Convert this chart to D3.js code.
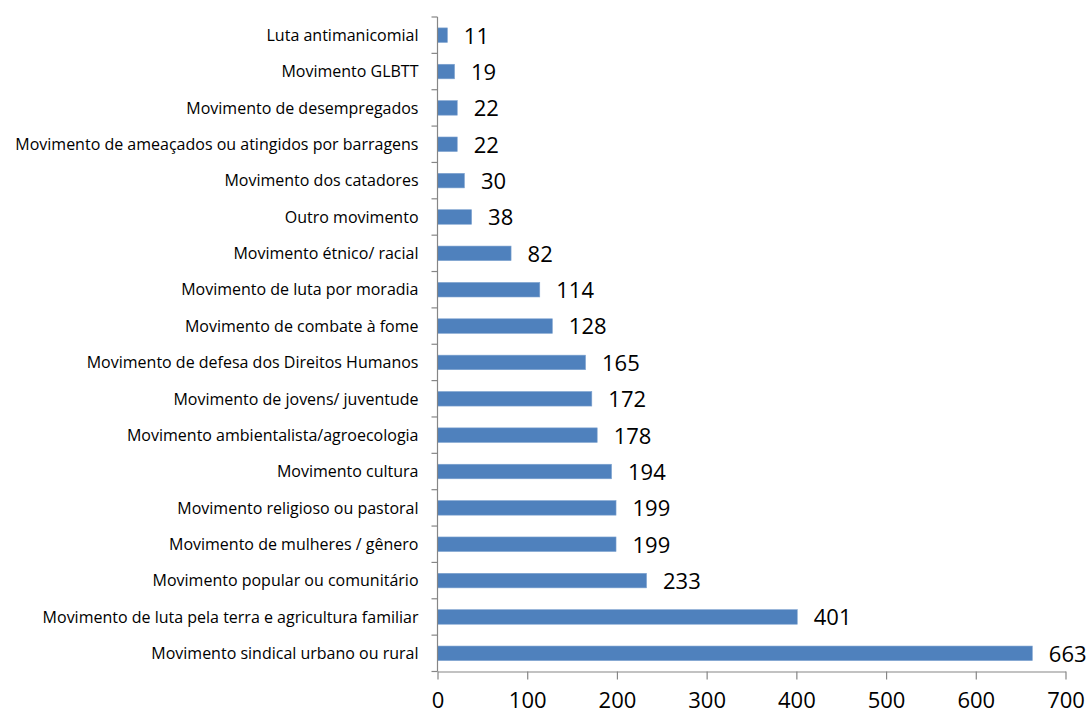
<!DOCTYPE html>
<html>
<head>
<meta charset="utf-8">
<script src="https://cdn.jsdelivr.net/npm/d3@7"></script>
<style>
  body { margin: 0; background: #fff; }
  svg { display: block; }
</style>
</head>
<body>
<svg id="chart" width="1091" height="715"></svg>
<script>
// categories from top to bottom
const categories = [
  'Luta antimanicomial',
  'Movimento GLBTT',
  'Movimento de desempregados',
  'Movimento de ameaçados ou atingidos por barragens',
  'Movimento dos catadores',
  'Outro movimento',
  'Movimento étnico/ racial',
  'Movimento de luta por moradia',
  'Movimento de combate à fome',
  'Movimento de defesa dos Direitos Humanos',
  'Movimento de jovens/ juventude',
  'Movimento ambientalista/agroecologia',
  'Movimento cultura',
  'Movimento religioso ou pastoral',
  'Movimento de mulheres / gênero',
  'Movimento popular ou comunitário',
  'Movimento de luta pela terra e agricultura familiar',
  'Movimento sindical urbano ou rural'
];
const values = [11, 19, 22, 22, 30, 38, 82, 114, 128, 165, 172, 178, 194, 199, 199, 233, 401, 663];
const xTicks = [0, 100, 200, 300, 400, 500, 600, 700];

const svg = d3.select('#chart');
const plotLeft = 437.5;
const plotRight = 1065.5;
const plotTop = 17;
const plotBottom = 671.5;
const axisColor = '#868686';
const font = '"Open Sans", sans-serif';

const xScale = d3.scaleLinear().domain([0, 700]).range([plotLeft, plotRight]);
const yScale = d3.scaleBand().domain(categories).range([plotTop, plotBottom]).paddingInner(0.6).paddingOuter(0.3);

// bars
svg.append('g')
  .selectAll('rect')
  .data(values)
  .enter()
  .append('rect')
  .attr('x', xScale(0))
  .attr('y', (d, i) => yScale(categories[i]))
  .attr('width', d => xScale(d) - xScale(0))
  .attr('height', yScale.bandwidth())
  .attr('fill', '#4f81bd')
  .attr('stroke', '#7ea3d0')
  .attr('stroke-width', 0.6);

// value labels
svg.append('g')
  .selectAll('text')
  .data(values)
  .enter()
  .append('text')
  .attr('x', d => xScale(d) + 16.5)
  .attr('y', (d, i) => yScale(categories[i]) + yScale.bandwidth() / 2)
  .attr('dy', '0.38em')
  .attr('font-family', font)
  .attr('font-size', 22)
  .attr('fill', '#000')
  .text(d => d);

// y axis: line + ticks at band boundaries
const step = (plotBottom - plotTop) / categories.length;
const yAxis = svg.append('g');
yAxis.append('line')
  .attr('x1', plotLeft).attr('x2', plotLeft)
  .attr('y1', plotTop).attr('y2', plotBottom)
  .attr('stroke', axisColor).attr('stroke-width', 1.2);
yAxis.selectAll('line.tick')
  .data(d3.range(categories.length + 1))
  .enter()
  .append('line')
  .attr('class', 'tick')
  .attr('x1', plotLeft - 6).attr('x2', plotLeft)
  .attr('y1', i => plotTop + i * step).attr('y2', i => plotTop + i * step)
  .attr('stroke', axisColor).attr('stroke-width', 1.2);
yAxis.selectAll('text')
  .data(categories)
  .enter()
  .append('text')
  .attr('x', plotLeft - 19)
  .attr('y', d => yScale(d) + yScale.bandwidth() / 2)
  .attr('dy', '0.36em')
  .attr('text-anchor', 'end')
  .attr('font-family', font)
  .attr('font-size', 16)
  .attr('fill', '#000')
  .text(d => d);

// x axis
const xAxis = svg.append('g')
  .attr('transform', `translate(0,${plotBottom})`)
  .call(d3.axisBottom(xScale).tickValues(xTicks).tickSize(8).tickPadding(13).tickSizeOuter(0));
xAxis.select('.domain').attr('stroke', axisColor).attr('stroke-width', 1.2);
xAxis.selectAll('.tick line').attr('stroke', axisColor).attr('stroke-width', 1.2);
xAxis.selectAll('.tick text')
  .attr('font-family', font)
  .attr('font-size', 22)
  .attr('fill', '#000');
</script>
</body>
</html>
